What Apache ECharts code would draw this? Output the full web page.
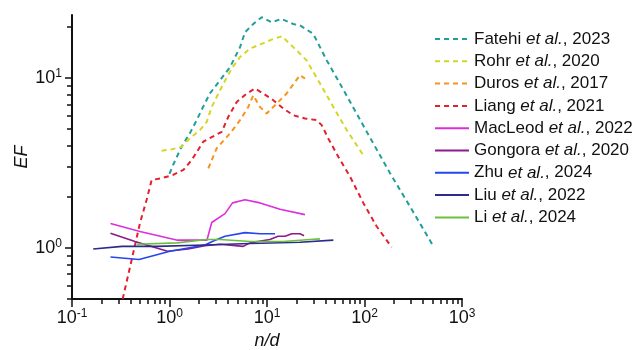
<!DOCTYPE html>
<html><head><meta charset="utf-8">
<script src="https://cdn.jsdelivr.net/npm/echarts@6/dist/echarts.min.js"></script>
<style>html,body{margin:0;padding:0;background:#fff}#c{width:636px;height:350px}</style>
</head><body><div id="c"></div>
<script>
// ---- data ----
const seriesNames = ['Fatehi|2023','Rohr|2020','Duros|2017','Liang|2021','MacLeod|2022','Gongora|2020','Zhu|2024','Liu|2022','Li|2024'];

const fatehiX = [1.0,1.09,1.33,1.62,1.90,2.21,2.60,3.30,4.18,5.29,5.95,7.23,8.82,11.2,14.1,18.6,21.8,29.8,41,56,83,123,183,293,495];
const fatehiY = [2.73,3.08,3.94,4.74,5.65,6.76,8.13,9.70,11.6,15.2,18.6,20.8,22.8,21.3,22.3,20.8,20.4,18.2,12.7,9.27,6.18,4.12,2.75,1.75,1.05];

const rohrX = [0.83,1.05,1.33,1.62,2.05,2.41,2.71,3.43,4.35,5.29,6.69,8.83,11.6,14.2,18.6,25.5,35,47.9,65.7,97];
const rohrY = [3.73,3.80,3.94,4.41,4.94,5.52,6.76,8.86,11.4,13.3,14.9,15.9,17.0,17.6,15.2,12.7,9.27,6.76,4.94,3.52];

const durosX = [2.50,3.05,4.18,5.29,6.43,7.23,8.47,9.93,12.6,15.9,19.4,21.8,24.5];
const durosY = [2.94,3.86,4.72,5.65,6.76,7.92,6.76,6.18,7.08,8.11,9.48,10.4,9.92];

const liangX = [0.331,0.41,0.498,0.583,0.656,0.83,1.09,1.39,1.69,2.22,3.43,4.01,4.89,6.19,7.54,9.17,11.6,14.7,18.6,24.5,32.3,36.4,42.5,53.9,71,97.2,133,190];
const liangY = [0.5,0.854,1.40,1.92,2.51,2.57,2.69,2.88,3.29,4.22,4.82,5.91,7.23,8.10,8.67,8.10,7.40,6.62,6.04,5.78,5.65,5.28,4.41,3.44,2.63,1.84,1.34,1.01];

const macleodX = [0.248,0.498,1.21,2.42,2.71,3.71,4.43,5.95,8.47,13.6,24.5];
const macleodY = [1.39,1.25,1.11,1.11,1.41,1.59,1.84,1.92,1.84,1.69,1.57];

const gongoraX = [0.248,0.443,0.954,1.55,2.31,3.30,5.71,6.69,10.7,13.0,15.3,18.0,21.8,24.0];
const gongoraY = [1.22,1.09,0.955,0.984,1.03,1.05,1.02,1.07,1.12,1.17,1.17,1.21,1.21,1.18];

const zhuX = [0.248,0.487,1.01,2.31,2.86,3.71,5.95,8.47,12.1];
const zhuY = [0.883,0.854,0.955,1.04,1.10,1.17,1.23,1.21,1.21];

const liuX = [0.165,0.326,0.745,2.31,6.69,21.8,47.9];
const liuY = [0.984,1.02,1.02,1.04,1.06,1.08,1.11];

const liX = [0.461,1.19,2.41,3.30,6.69,14.7,27.7,35];
const liY = [1.05,1.07,1.12,1.12,1.09,1.09,1.12,1.13];

const xTickLabels = [0.1, 1, 10, 100, 1000];
const yTickLabels = [1, 10];
// ---------------------------------------

const colors = ['#1f9e9a','#d4d626','#f7931e','#e3202b','#dc2fdc','#8b1a8b','#2545f0','#2b2b8c','#6cbf3c'];
const dashed = [true,true,true,true,false,false,false,false,false];
const xs = [fatehiX,rohrX,durosX,liangX,macleodX,gongoraX,zhuX,liuX,liX];
const ys = [fatehiY,rohrY,durosY,liangY,macleodY,gongoraY,zhuY,liuY,liY];

function zip(a,b){return a.map((v,i)=>[v,b[i]]);}
function minorTicks(lo, hi){
  const out=[];
  for(let d=lo; d<hi; d++){ for(let k=1;k<=9;k++){ out.push(k*Math.pow(10,d)); } }
  out.push(Math.pow(10,hi));
  return out;
}
const FONT = 'Liberation Sans, Arial, Helvetica, sans-serif';
const supRich = {
  b:{fontSize:18, fontFamily:FONT, color:'#111', lineHeight:20},
  s:{fontSize:12, fontFamily:FONT, color:'#111', verticalAlign:'top', lineHeight:10}
};
function supFmt(v){ const e=Math.round(Math.log10(v)); return '{b|10}{s|'+(e<0?'-':'')+Math.abs(e)+'}'; }

const xMin=0.1, xMax=1000, yMin=0.5, yMax=23.5;
const xMinor = minorTicks(-1,3);
const yMinor = [0.5,0.6,0.7,0.8,0.9].concat(minorTicks(0,1)).concat([20]);

const series = seriesNames.map((n,i)=>({
  name:n, type:'line', xAxisIndex:0, yAxisIndex:0,
  data: zip(xs[i],ys[i]), symbol:'none', showSymbol:false, smooth:false,
  lineStyle:{color:colors[i], width: dashed[i]?2:1.6, type: dashed[i]?[5,4]:'solid'},
  itemStyle:{color:colors[i]}, clip:true, animation:false
}));

const chart = echarts.init(document.getElementById('c'), null, {renderer:'canvas'});
chart.setOption({
  animation:false,
  color: colors,
  grid:{left:72, right:174, top:15, bottom:51, containLabel:false, outerBoundsMode:'none'},
  legend:{
    orient:'vertical', left:434, top:30, padding:0, itemWidth:34, itemHeight:14, itemGap:4.3,
    data: seriesNames,
    itemStyle:{opacity:0},
    formatter: function(n){ const p=n.split('|'); return '{n|'+p[0]+' }{i|et al.}{n|, '+p[1]+'}'; },
    textStyle:{fontSize:17, fontFamily:FONT, color:'#111', lineHeight:18,
      rich:{ n:{fontSize:17, fontFamily:FONT, color:'#111'}, i:{fontSize:17, fontFamily:FONT, fontStyle:'italic', color:'#111'} } }
  },
  xAxis:[{
    type:'log', logBase:10, min:xMin, max:xMax, position:'bottom',
    name:'n/d', nameLocation:'middle', nameGap:33,
    nameTextStyle:{fontSize:18, fontStyle:'italic', fontFamily:FONT, color:'#111'},
    axisLine:{show:true, onZero:false, lineStyle:{color:'#111', width:2}},
    axisTick:{show:true, inside:false, length:5, lineStyle:{color:'#111', width:1.5}, customValues:xMinor},
    axisLabel:{show:true, margin:9, customValues:xTickLabels, formatter:supFmt, rich:supRich},
    splitLine:{show:false}, minorTick:{show:false}
  },{
    type:'log', logBase:10, min:xMin, max:xMax, position:'bottom', gridIndex:0,
    axisLine:{show:false}, axisLabel:{show:false}, splitLine:{show:false},
    axisTick:{show:true, inside:false, length:8, lineStyle:{color:'#111', width:1.5}, customValues:xTickLabels}
  }],
  yAxis:[{
    type:'log', logBase:10, min:yMin, max:yMax, position:'left',
    name:'EF', nameLocation:'middle', nameGap:41, nameRotate:90, nameMoveOverlap:false,
    nameTextStyle:{fontSize:18, fontStyle:'italic', fontFamily:FONT, color:'#111'},
    axisLine:{show:true, onZero:false, lineStyle:{color:'#111', width:2}},
    axisTick:{show:true, inside:false, length:5, lineStyle:{color:'#111', width:1.5}, customValues:yMinor},
    axisLabel:{show:true, margin:10, customValues:yTickLabels, formatter:supFmt, rich:supRich},
    splitLine:{show:false}, minorTick:{show:false}
  },{
    type:'log', logBase:10, min:yMin, max:yMax, position:'left', gridIndex:0,
    axisLine:{show:false}, axisLabel:{show:false}, splitLine:{show:false},
    axisTick:{show:true, inside:false, length:7, lineStyle:{color:'#111', width:1.5}, customValues:yTickLabels}
  }],
  series: series
});
</script>
</body></html>
